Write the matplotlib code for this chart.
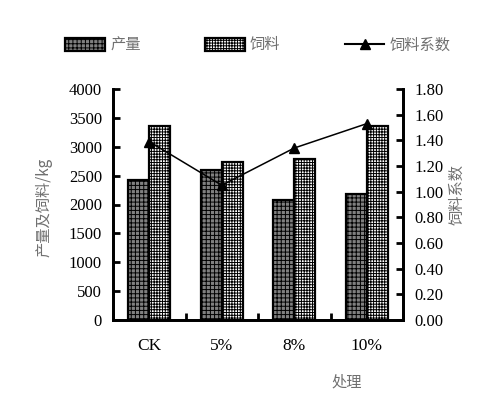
import numpy as np
import matplotlib.pyplot as plt
from matplotlib.lines import Line2D
from matplotlib.patches import Patch

plt.rcParams['font.family'] = ['Liberation Serif', 'Noto Sans CJK SC']
plt.rcParams['hatch.linewidth'] = 0.7

categories = ['CK', '5%', '8%', '10%']
yield_kg = [2430, 2590, 2080, 2190]
feed_kg = [3360, 2740, 2780, 3360]
feed_ratio = [1.39, 1.05, 1.34, 1.53]

cn = ['Noto Sans CJK SC']
grey = '#707070'

fig = plt.figure(figsize=(4.97, 3.98), dpi=100)
ax = fig.add_axes([113 / 497, 1 - 320 / 398, 290 / 497, 231 / 398])
ax2 = ax.twinx()

x = np.arange(len(categories))
w = 0.29
ax.bar(x - w / 2, yield_kg, w, color='#808080', edgecolor='black',
       linewidth=1.6, hatch='++++', zorder=2)
ax.bar(x + w / 2, feed_kg, w, color='white', edgecolor='black',
       linewidth=1.6, hatch='++++++', zorder=2)
ax2.plot(x, feed_ratio, color='black', linewidth=1.1, marker='^',
         markersize=7.5)

ax.set_xlim(-0.5, 3.5)
ax.set_ylim(0, 4000)
ax.set_yticks(np.arange(0, 4001, 500))
ax2.set_ylim(0, 1.8)
ax2.set_yticks(np.arange(0, 1.81, 0.2))
ax2.set_yticklabels([f'{v:.2f}' for v in np.arange(0, 1.81, 0.2)])

ax.set_xticks(np.arange(-0.5, 3.6, 1))
ax.set_xticklabels([])
ax.set_xticks(x, minor=True)
ax.set_xticklabels(categories, minor=True)
ax.tick_params(axis='x', which='minor', length=0, pad=13, labelsize=12.5)
ax.tick_params(axis='x', which='major', direction='in', length=5, width=2)
ax.tick_params(axis='y', direction='in', length=5, width=2, labelsize=12, pad=8)
ax2.tick_params(axis='y', direction='in', length=5, width=2, labelsize=12, pad=8)

for a in (ax, ax2):
    a.spines['top'].set_visible(False)
    a.spines['left'].set_linewidth(2)
    a.spines['right'].set_linewidth(2)
    a.spines['bottom'].set_linewidth(2)

fig.text(44 / 497, 1 - 207 / 398, '产量及饲料/kg', rotation=90, ha='center',
         va='center', family=cn, color=grey, fontsize=11, weight='light')
fig.text(457 / 497, 1 - 195 / 398, '饲料系数', rotation=90, ha='center',
         va='center', family=cn, color=grey, fontsize=11, weight='light')
fig.text(347 / 497, 1 - 382 / 398, '处理', ha='center', va='center',
         family=cn, color=grey, fontsize=11, weight='light')

handles = [
    Patch(facecolor='#808080', edgecolor='black', hatch='++++', linewidth=1.6),
    Patch(facecolor='white', edgecolor='black', hatch='++++++', linewidth=1.6),
    Line2D([], [], color='black', marker='^', markersize=7.5, linewidth=1.5),
]
leg = fig.legend(handles, ['产量', '饲料', '饲料系数'], loc='center',
                 bbox_to_anchor=(258 / 497, 1 - 45 / 398), ncol=3,
                 frameon=False, columnspacing=4.2, handlelength=2.6,
                 handleheight=0.9, handletextpad=0.35,
                 prop={'family': cn, 'size': 11, 'weight': 'light'})
for t in leg.get_texts():
    t.set_color(grey)

fig.savefig('out.png', dpi=100)
